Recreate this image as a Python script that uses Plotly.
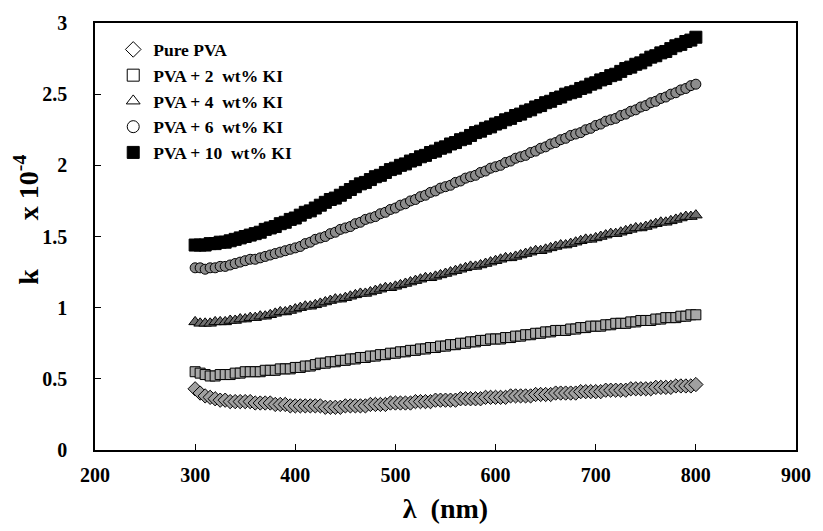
import plotly.graph_objects as go

wavelength = list(range(300, 805, 5))

pure_pva = [0.43,0.40,0.38,0.37,0.36,0.35,0.35,0.34,0.34,0.34,
            0.34,0.34,0.33,0.33,0.33,0.33,0.32,0.32,0.32,0.31,
            0.31,0.31,0.31,0.31,0.31,0.31,0.30,0.30,0.30,0.30,
            0.31,0.31,0.31,0.31,0.31,0.32,0.32,0.32,0.32,0.33,
            0.33,0.33,0.33,0.33,0.34,0.34,0.34,0.34,0.35,0.35,
            0.35,0.35,0.35,0.36,0.36,0.36,0.36,0.36,0.37,0.37,
            0.37,0.37,0.37,0.38,0.38,0.38,0.38,0.38,0.39,0.39,
            0.39,0.39,0.40,0.40,0.40,0.40,0.40,0.41,0.41,0.41,
            0.41,0.41,0.42,0.42,0.42,0.42,0.42,0.43,0.43,0.43,
            0.43,0.43,0.44,0.44,0.44,0.44,0.45,0.45,0.45,0.45,
            0.46]

pva_2 = [0.55,0.54,0.53,0.52,0.52,0.53,0.53,0.53,0.54,0.54,
         0.55,0.55,0.55,0.55,0.56,0.56,0.56,0.57,0.57,0.57,
         0.58,0.58,0.59,0.59,0.60,0.61,0.61,0.62,0.62,0.63,
         0.63,0.64,0.64,0.65,0.65,0.66,0.66,0.67,0.67,0.68,
         0.68,0.69,0.69,0.70,0.70,0.71,0.71,0.72,0.72,0.73,
         0.73,0.74,0.74,0.75,0.75,0.76,0.76,0.77,0.77,0.78,
         0.78,0.78,0.79,0.79,0.80,0.80,0.81,0.81,0.82,0.82,
         0.83,0.83,0.84,0.84,0.84,0.85,0.85,0.86,0.86,0.87,
         0.87,0.87,0.88,0.88,0.89,0.89,0.89,0.90,0.90,0.91,
         0.91,0.91,0.92,0.92,0.93,0.93,0.93,0.94,0.94,0.95,
         0.95]

pva_4 = [0.90,0.89,0.89,0.89,0.90,0.90,0.90,0.91,0.91,0.92,
         0.92,0.93,0.93,0.94,0.94,0.95,0.96,0.97,0.97,0.98,
         0.99,1.00,1.01,1.01,1.02,1.03,1.04,1.05,1.06,1.06,
         1.07,1.08,1.09,1.10,1.10,1.11,1.12,1.13,1.14,1.14,
         1.15,1.16,1.17,1.18,1.19,1.20,1.21,1.21,1.22,1.23,
         1.24,1.25,1.26,1.27,1.28,1.29,1.29,1.30,1.31,1.32,
         1.33,1.34,1.35,1.35,1.36,1.37,1.38,1.39,1.40,1.40,
         1.41,1.42,1.43,1.44,1.44,1.45,1.46,1.47,1.48,1.48,
         1.49,1.50,1.51,1.52,1.52,1.53,1.54,1.55,1.56,1.56,
         1.57,1.58,1.59,1.60,1.60,1.61,1.62,1.63,1.64,1.64,
         1.65]

pva_6 = [1.28,1.28,1.27,1.28,1.28,1.29,1.29,1.30,1.31,1.32,
         1.33,1.34,1.34,1.35,1.36,1.37,1.38,1.39,1.40,1.41,
         1.42,1.43,1.45,1.46,1.48,1.49,1.50,1.52,1.53,1.55,
         1.56,1.57,1.59,1.60,1.62,1.63,1.64,1.66,1.67,1.69,
         1.70,1.72,1.73,1.75,1.76,1.78,1.79,1.81,1.82,1.84,
         1.85,1.86,1.88,1.89,1.91,1.92,1.93,1.95,1.96,1.98,
         1.99,2.00,2.02,2.03,2.05,2.06,2.07,2.09,2.10,2.12,
         2.13,2.15,2.16,2.18,2.19,2.21,2.22,2.23,2.25,2.26,
         2.28,2.29,2.31,2.32,2.33,2.35,2.36,2.38,2.39,2.41,
         2.42,2.44,2.45,2.47,2.48,2.50,2.51,2.53,2.54,2.56,
         2.57]

pva_10 = [1.44,1.44,1.44,1.45,1.45,1.46,1.46,1.47,1.48,1.49,
          1.50,1.51,1.52,1.53,1.55,1.56,1.57,1.59,1.60,1.62,
          1.63,1.65,1.67,1.68,1.70,1.72,1.74,1.76,1.77,1.79,
          1.81,1.83,1.85,1.87,1.88,1.90,1.92,1.93,1.95,1.97,
          1.98,2.00,2.01,2.03,2.04,2.06,2.07,2.09,2.10,2.12,
          2.13,2.15,2.16,2.18,2.19,2.21,2.23,2.24,2.26,2.27,
          2.29,2.30,2.32,2.33,2.35,2.36,2.38,2.39,2.41,2.42,
          2.44,2.45,2.47,2.48,2.50,2.51,2.52,2.54,2.55,2.57,
          2.58,2.60,2.61,2.63,2.64,2.66,2.68,2.69,2.71,2.72,
          2.74,2.76,2.77,2.79,2.80,2.82,2.84,2.85,2.87,2.88,
          2.90]

names = ["Pure PVA", "PVA + 2  wt% KI", "PVA + 4  wt% KI", "PVA + 6  wt% KI", "PVA + 10  wt% KI"]
series = [pure_pva, pva_2, pva_4, pva_6, pva_10]
symbols = ["diamond", "square", "triangle-up", "circle", "square"]
plot_fill = ["#a0a0a0", "#a8a8a8", "#6e6e6e", "#8c8c8c", "#000000"]
plot_size = [11, 10, 11, 10, 12]
legend_fill = ["white", "white", "white", "white", "black"]

fig = go.Figure()
for nm, ys, sym, fc, sz in zip(names, series, symbols, plot_fill, plot_size):
    fig.add_trace(go.Scatter(
        x=wavelength, y=ys, mode="markers", showlegend=False,
        marker=dict(symbol=sym, size=sz, color=fc, line=dict(color="black", width=1)),
    ))
for i, (nm, sym, fc) in enumerate(zip(names, symbols, legend_fill)):
    fig.add_trace(go.Scatter(
        x=[None], y=[None], mode="markers", name=nm, legendgroup=str(i),
        marker=dict(symbol=sym, size=12, color=fc, line=dict(color="black", width=1)),
    ))

font_family = "Liberation Serif"
fig.update_layout(
    width=823, height=531,
    margin=dict(l=95, r=16, t=15, b=81),
    paper_bgcolor="white", plot_bgcolor="white",
    font=dict(family=font_family, color="black"),
    legend=dict(
        x=0.026, y=0.98, xanchor="left", yanchor="top",
        font=dict(family=font_family, size=17.5, color="black", weight="bold"),
        bgcolor="rgba(0,0,0,0)", tracegroupgap=0, itemwidth=30,
    ),
    xaxis=dict(
        range=[200, 900], dtick=100, tick0=200,
        showline=True, linecolor="black", linewidth=1.5, mirror=True,
        ticks="inside", ticklen=6, tickcolor="black",
        showgrid=False, zeroline=False,
        tickfont=dict(family=font_family, size=20, color="black", weight="bold"),
        ticklabelstandoff=6,
        title=dict(text="λ  (nm)", font=dict(family=font_family, size=28, color="black", weight="bold"), standoff=14),
    ),
    yaxis=dict(
        range=[0, 3], dtick=0.5,
        showline=True, linecolor="black", linewidth=1.5, mirror=True,
        ticks="inside", ticklen=6, tickcolor="black",
        showgrid=False, zeroline=False,
        tickfont=dict(family=font_family, size=20, color="black", weight="bold"),
        ticklabelstandoff=22,
    ),
    annotations=[dict(
        text="k       x 10<sup>-4</sup>", textangle=-90,
        xref="paper", yref="paper", x=-0.098, y=0.54,
        xanchor="center", yanchor="middle", showarrow=False,
        font=dict(family=font_family, size=28, color="black", weight="bold"),
    )],
)

fig.write_html("out.html")
